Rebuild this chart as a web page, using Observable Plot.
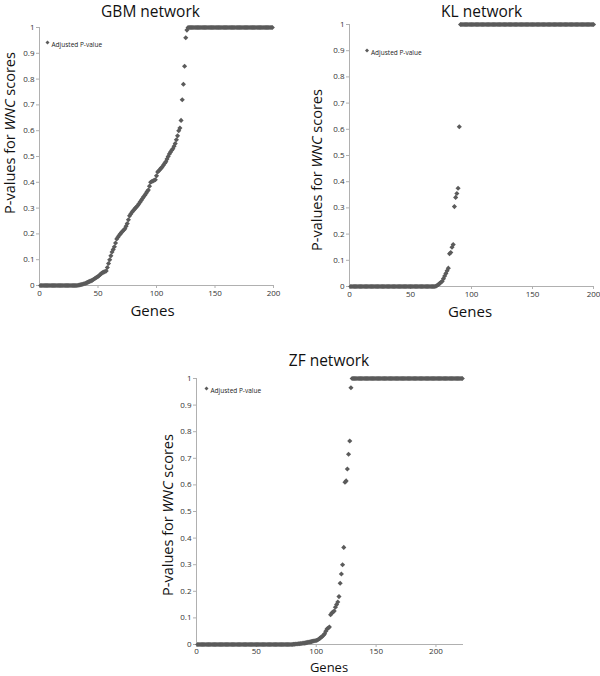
<!DOCTYPE html>
<html><head><meta charset="utf-8">
<script src="https://cdn.jsdelivr.net/npm/d3@7"></script>
<script src="https://cdn.jsdelivr.net/npm/@observablehq/plot@0.6"></script>
<style>
body{margin:0;background:#fff;}
#wrap{position:relative;width:600px;height:676px;overflow:hidden;background:#fff;}
#wrap svg{position:absolute;overflow:visible;}
</style></head>
<body><div id="wrap"></div>
<script>
// ---- data ----
const legendLabel = "Adjusted P-value";
const yLabelA = "P-values for ";
const yLabelB = "WNC";
const yLabelC = " scores";
const xLabel = "Genes";
const yTicks = [0,0.1,0.2,0.3,0.4,0.5,0.6,0.7,0.8,0.9,1];
const xTicks = [0,50,100,150,200];

const gbmTitle = "GBM network";
const gbmP = [
0,0,0,0,0,0,0,0,0,0,
0,0,0,0,0,0,0,0,0,0,
0,0,0,0,0,0,0,0,0,0,
0,0,
0.001,0.002,0.003,0.004,0.005,0.007,0.008,0.01,0.012,0.014,
0.016,0.018,0.02,0.023,0.026,0.029,0.032,0.035,0.039,0.043,
0.047,0.05,0.052,0.054,0.056,0.07,0.085,0.1,0.115,0.13,
0.14,0.15,0.165,0.18,0.187,0.194,0.2,0.205,0.21,0.215,
0.22,0.23,0.24,0.255,0.27,0.277,0.284,0.29,0.295,0.3,
0.305,0.31,0.317,0.324,0.33,0.337,0.344,0.35,0.357,0.364,
0.37,0.385,0.4,0.403,0.405,0.408,0.41,0.425,0.44,0.445,
0.45,0.455,0.46,0.467,0.474,0.48,0.49,0.5,0.51,0.517,
0.524,0.53,0.54,0.55,0.565,0.58,0.6,0.61,0.64,0.72,
0.78,0.85,0.96,0.99,
1,1,1,1,1,1,1,1,1,1,
1,1,1,1,1,1,1,1,1,1,
1,1,1,1,1,1,1,1,1,1,
1,1,1,1,1,1,1,1,1,1,
1,1,1,1,1,1,1,1,1,1,
1,1,1,1,1,1,1,1,1,1,
1,1,1,1,1,1,1,1,1,1,
1,1,1
];

const klTitle = "KL network";
const klP = [
0,0,0,0,0,0,0,0,0,0,
0,0,0,0,0,0,0,0,0,0,
0,0,0,0,0,0,0,0,0,0,
0,0,0,0,0,0,0,0,0,0,
0,0,0,0,0,0,0,0,0,0,
0,0,0,0,0,0,0,0,0,0,
0,0,0,0,0,0,0,0,0,0,
0.002,0.005,0.008,0.012,0.016,0.02,0.03,0.04,0.05,0.06,
0.07,0.125,0.13,0.15,0.16,0.305,0.34,0.355,0.375,0.61,
1,1,1,1,1,1,1,1,1,1,
1,1,1,1,1,1,1,1,1,1,
1,1,1,1,1,1,1,1,1,1,
1,1,1,1,1,1,1,1,1,1,
1,1,1,1,1,1,1,1,1,1,
1,1,1,1,1,1,1,1,1,1,
1,1,1,1,1,1,1,1,1,1,
1,1,1,1,1,1,1,1,1,1,
1,1,1,1,1,1,1,1,1,1,
1,1,1,1,1,1,1,1,1,1,
1,1,1,1,1,1,1,1,1,1
];

const zfTitle = "ZF network";
const zfP = [
0,0,0,0,0,0,0,0,0,0,
0,0,0,0,0,0,0,0,0,0,
0,0,0,0,0,0,0,0,0,0,
0,0,0,0,0,0,0,0,0,0,
0,0,0,0,0,0,0,0,0,0,
0,0,0,0,0,0,0,0,0,0,
0,0,0,0,0,0,0,0,0,0,
0,0,0,0,0,0,0,0,0,0,
0.001,0.001,0.002,0.002,0.003,0.003,0.004,0.004,0.005,0.005,
0.006,0.007,0.008,0.009,0.01,0.011,0.012,0.013,0.014,0.015,
0.017,0.02,0.023,0.027,0.03,0.035,0.04,0.05,0.058,0.062,
0.066,0.112,0.118,0.122,0.126,0.14,0.15,0.16,0.18,0.23,
0.265,0.3,0.365,0.61,0.615,0.66,0.715,0.765,0.965,
1,1,1,1,1,1,1,1,1,1,
1,1,1,1,1,1,1,1,1,1,
1,1,1,1,1,1,1,1,1,1,
1,1,1,1,1,1,1,1,1,1,
1,1,1,1,1,1,1,1,1,1,
1,1,1,1,1,1,1,1,1,1,
1,1,1,1,1,1,1,1,1,1,
1,1,1,1,1,1,1,1,1,1,
1,1,1,1,1,1,1,1,1,1,
1,1,1
];
const zfXMax = 223;

// ---- drawing ----
const FONT = '"Open Sans", sans-serif';
const AXIS = "#b0b0b0";
const INK = "#333";
const MARK = "#5b5b5b";

function panel(cfg) {
  const p = Plot.plot({
    width: cfg.w, height: cfg.h,
    marginLeft: cfg.ml, marginRight: cfg.mr, marginTop: cfg.mt, marginBottom: cfg.mb,
    style: {fontFamily: FONT, background: "transparent", overflow: "visible"},
    x: {domain: [0, cfg.xMax]},
    y: {domain: [0, 1]},
    marks: [
      Plot.axisY(yTicks, {tickSize: 3, tickPadding: 2, stroke: AXIS, fill: INK, fontSize: 8,
        tickFormat: d => String(d), label: null}),
      Plot.axisX(xTicks, {tickSize: 3, tickPadding: cfg.xp, stroke: AXIS, fill: INK, fontSize: 8,
        tickFormat: d => String(d), label: null}),
      Plot.ruleX([0], {stroke: AXIS}),
      Plot.ruleY([0], {stroke: AXIS}),
      Plot.dot(cfg.data, {x: (d, i) => i + 1, y: d => d, symbol: "diamond2", r: 2.3,
        fill: MARK, stroke: "none"}),
      Plot.dot([legendLabel], {frameAnchor: "top-left", dx: cfg.lx, dy: cfg.ly,
        symbol: "diamond2", r: 1.8, fill: MARK, stroke: "none"}),
      Plot.text([legendLabel], {frameAnchor: "top-left", dx: cfg.lx + 4, dy: cfg.ly,
        text: d => d, textAnchor: "start", fontSize: 6.5, fill: "#222"})
    ]
  });
  p.style.left = cfg.left + "px";
  p.style.top = cfg.top + "px";
  const s = d3.select(p);
  s.append("text").attr("x", cfg.tx).attr("y", cfg.ty).attr("text-anchor", "middle")
    .attr("font-size", 15.5).attr("fill", "#111").attr("font-family", FONT).text(cfg.title);
  const yl = s.append("text").attr("transform", `translate(${cfg.yx},${cfg.yy}) rotate(-90)`)
    .attr("text-anchor", "middle").attr("font-size", 14.5).attr("fill", "#111").attr("font-family", FONT);
  yl.append("tspan").text(yLabelA);
  yl.append("tspan").attr("font-style", "italic").text(yLabelB);
  yl.append("tspan").text(yLabelC);
  s.append("text").attr("x", cfg.gx).attr("y", cfg.gy).attr("text-anchor", "middle")
    .attr("font-size", cfg.gs).attr("fill", "#111").attr("font-family", FONT).text(xLabel);
  document.getElementById("wrap").appendChild(p);
}

panel({data: gbmP, title: gbmTitle, xMax: 200, left: 0, top: 0, w: 300, h: 320,
  ml: 39, mr: 27, mt: 27, mb: 35, lx: 8, ly: 15, xp: 2,
  tx: 150.5, ty: 17, yx: 15, yy: 133, gx: 152.5, gy: 316, gs: 15});
panel({data: klP, title: klTitle, xMax: 200, left: 300, top: 0, w: 300, h: 320,
  ml: 49, mr: 7, mt: 24, mb: 34, lx: 17.5, ly: 26, xp: 2,
  tx: 181.7, ty: 17, yx: 22, yy: 170, gx: 170, gy: 317, gs: 15});
panel({data: zfP, title: zfTitle, xMax: zfXMax, left: 150, top: 320, w: 330, h: 356,
  ml: 46, mr: 17, mt: 58, mb: 32, lx: 10, ly: 10, xp: 1,
  tx: 179, ty: 46, yx: 23, yy: 195, gx: 179, gy: 352, gs: 13});
</script>
</body></html>
